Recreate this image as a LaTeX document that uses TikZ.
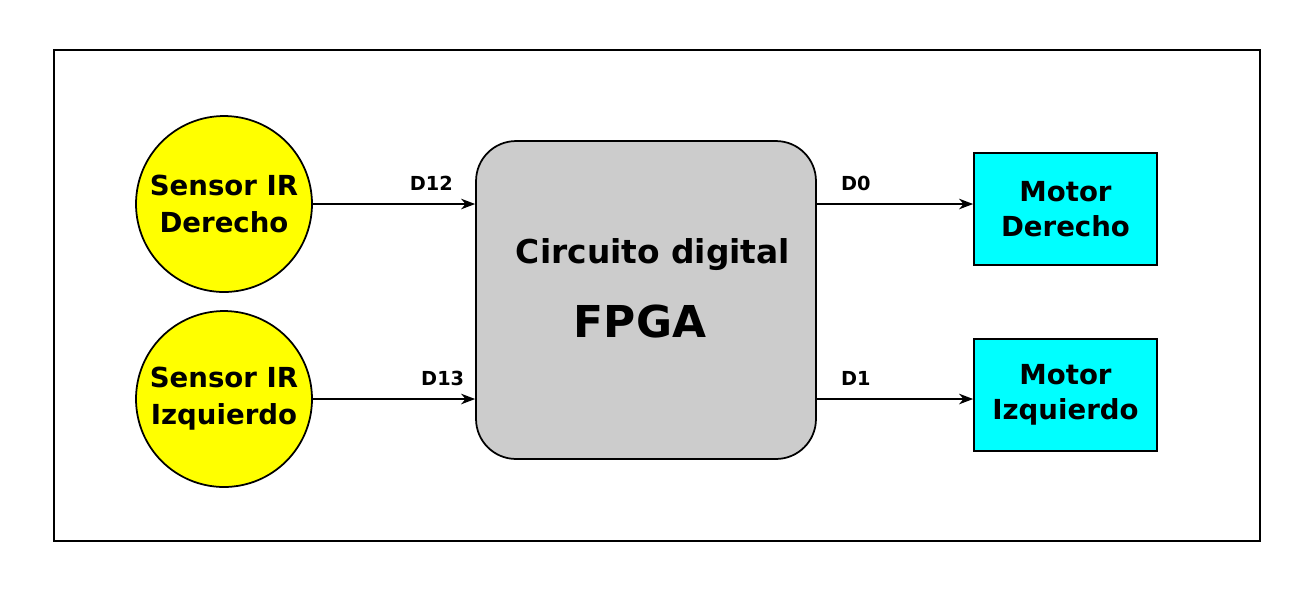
\documentclass[tikz,border=0pt]{standalone}
\usepackage{fontspec}
\setmainfont{DejaVu Sans}
\usetikzlibrary{arrows.meta,positioning}
\definecolor{grisfpga}{HTML}{CCCCCC}
\definecolor{amarillo}{HTML}{FFFF00}
\definecolor{cian}{HTML}{00FFFF}

\begin{document}
\begin{tikzpicture}[x=0.02cm,y=-0.02cm,
	sensor/.style={circle,draw,line width=1pt,fill=amarillo,minimum size=3.52cm,inner sep=0pt,align=center,font=\fontsize{15.7}{21}\selectfont\bfseries},
	motor/.style={rectangle,draw,line width=1pt,fill=cian,minimum width=3.66cm,minimum height=2.24cm,align=center,font=\fontsize{15.7}{20}\selectfont\bfseries},
	senal/.style={-{Stealth[length=8pt,width=6pt,inset=2.5pt]},line width=1pt},
	etiqueta/.style={font=\fontsize{11}{13}\selectfont\bfseries,above=0.14cm}]
	\useasboundingbox (0,0) rectangle (1315,610);
	% 外框
	\draw[line width=1pt] (54,50) rectangle (1260,541);

	% 传感器
	\node[sensor] (sder) at (224,204) {Sensor IR\\Derecho};
	\node[sensor] (sizq) at (224,399) {Sensor IR\\Izquierdo};

	% FPGA
	\node[draw,line width=1pt,fill=grisfpga,rounded corners=0.8cm,minimum width=6.8cm,minimum height=6.36cm] (fpga) at (646,300) {};
	\node[font=\fontsize{18.7}{22}\selectfont\bfseries] (titulo) at (653,255) {Circuito digital};
	\node[font=\fontsize{25}{30}\selectfont\bfseries] (chip) at (640,321) {FPGA};

	% 电机
	\node[motor] (mder) at (1065.5,209) {Motor\\Derecho};
	\node[motor] (mizq) at (1065.5,395) {Motor\\Izquierdo};

	% 信号线
	\draw[senal] (sder.east) -- (sder.east -| fpga.west) node[etiqueta,pos=0.73] {D12};
	\draw[senal] (sizq.east) -- (sizq.east -| fpga.west) node[etiqueta,pos=0.8] {D13};
	\draw[senal] (fpga.east |- sder.east) -- (mder.west |- sder.east) node[etiqueta,pos=0.25] {D0};
	\draw[senal] (fpga.east |- sizq.east) -- (mizq.west |- sizq.east) node[etiqueta,pos=0.25] {D1};
\end{tikzpicture}
\end{document}
